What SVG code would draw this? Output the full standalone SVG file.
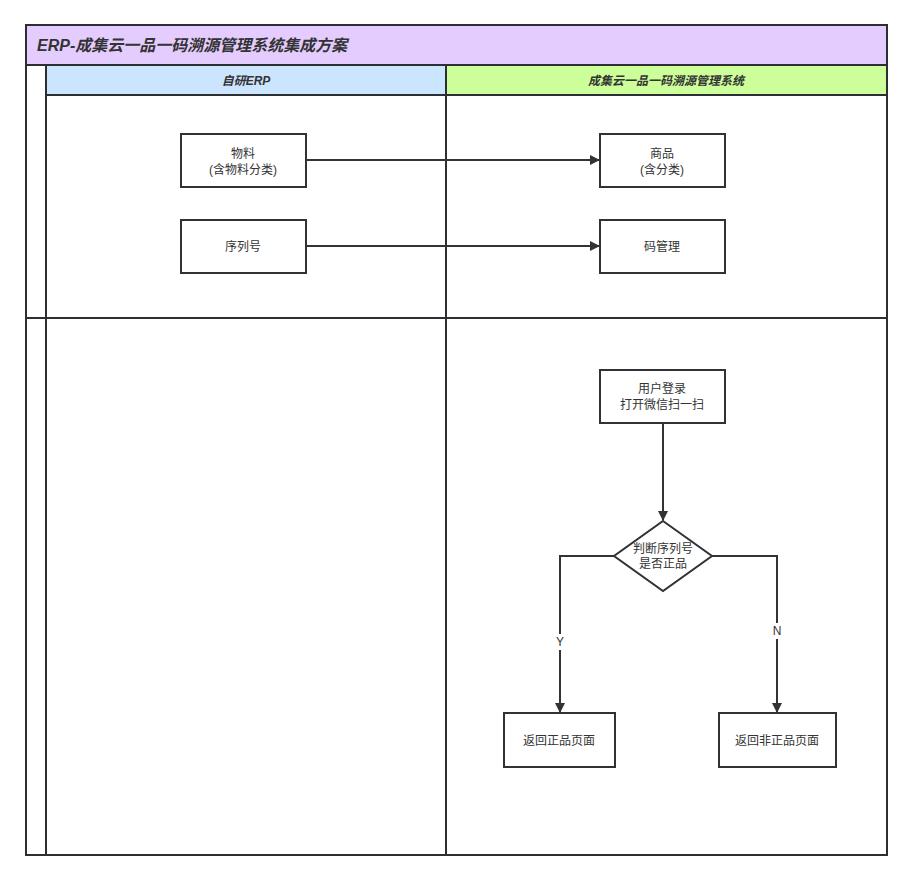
<svg xmlns="http://www.w3.org/2000/svg" width="912" height="880" viewBox="0 0 912 880">
<defs>
<style>
.lane{stroke:#2b2f33;stroke-width:2;}
.node{fill:#ffffff;stroke:#2f3338;stroke-width:2;}
.t{font-family:"Liberation Sans","Noto Sans CJK SC",sans-serif;font-size:12px;fill:#333333;text-anchor:middle;}
.h{font-family:"Liberation Sans","Noto Sans CJK SC",sans-serif;font-size:12px;font-weight:bold;font-style:italic;fill:#333333;text-anchor:middle;}
.edge{fill:none;stroke:#333333;stroke-width:2;}
</style>
<marker id="arr" markerWidth="10" markerHeight="10" refX="9" refY="5" orient="auto" markerUnits="userSpaceOnUse" viewBox="0 0 10 10">
<path d="M0,0 L10,5 L0,10 Z" fill="#333333"/>
</marker>
</defs>
<rect width="912" height="880" fill="#ffffff"/>
<g id="pool">
<rect x="26" y="25" width="861" height="40" fill="#e5ccff" class="lane"/>
<text x="37" y="51" font-family="Liberation Sans,Noto Sans CJK SC,sans-serif" font-size="16" font-weight="bold" font-style="italic" fill="#333333">ERP-成集云一品一码溯源管理系统集成方案</text>
<rect x="46" y="65" width="400" height="30" fill="#cce5ff" class="lane"/>
<text class="h" x="246" y="85">自研ERP</text>
<rect x="446" y="65" width="441" height="30" fill="#ccff99" class="lane"/>
<text class="h" x="666" y="85">成集云一品一码溯源管理系统</text>
<rect x="26" y="25" width="861" height="830" fill="none" class="lane"/>
<line x1="46" y1="65" x2="46" y2="855" class="lane"/>
<line x1="446" y1="95" x2="446" y2="855" class="lane"/>
<line x1="26" y1="318" x2="887" y2="318" class="lane"/>
</g>
<g id="edges">
<line x1="306" y1="160" x2="599" y2="160" class="edge" marker-end="url(#arr)"/>
<line x1="306" y1="246" x2="599" y2="246" class="edge" marker-end="url(#arr)"/>
<line x1="663" y1="423" x2="663" y2="520" class="edge" marker-end="url(#arr)"/>
<polyline points="614,556 560,556 560,712" class="edge" marker-end="url(#arr)"/>
<polyline points="712,556 777,556 777,712" class="edge" marker-end="url(#arr)"/>
<rect x="553" y="634" width="14" height="16" fill="#ffffff"/>
<text class="t" x="560" y="646">Y</text>
<rect x="770" y="623" width="14" height="16" fill="#ffffff"/>
<text class="t" x="777" y="635">N</text>
</g>
<g id="n-wuliao">
<rect x="181" y="134" width="125" height="53" class="node"/>
<text class="t" x="243" y="158">物料</text>
<text class="t" x="243" y="174">(含物料分类)</text>
</g>
<g id="n-xuliehao">
<rect x="181" y="220" width="125" height="53" class="node"/>
<text class="t" x="243" y="251">序列号</text>
</g>
<g id="n-shangpin">
<rect x="600" y="134" width="125" height="53" class="node"/>
<text class="t" x="662" y="158">商品</text>
<text class="t" x="662" y="174">(含分类)</text>
</g>
<g id="n-maguanli">
<rect x="600" y="220" width="125" height="53" class="node"/>
<text class="t" x="662" y="251">码管理</text>
</g>
<g id="n-login">
<rect x="600" y="370" width="125" height="53" class="node"/>
<text class="t" x="662" y="393">用户登录</text>
<text class="t" x="662" y="409">打开微信扫一扫</text>
</g>
<g id="n-judge">
<polygon points="663,521 712,556 663,591 614,556" class="node"/>
<text class="t" x="663" y="553">判断序列号</text>
<text class="t" x="663" y="568">是否正品</text>
</g>
<g id="n-genuine">
<rect x="504" y="713" width="111" height="54" class="node"/>
<text class="t" x="559" y="745">返回正品页面</text>
</g>
<g id="n-fake">
<rect x="719" y="713" width="117" height="54" class="node"/>
<text class="t" x="777" y="745">返回非正品页面</text>
</g>
</svg>
